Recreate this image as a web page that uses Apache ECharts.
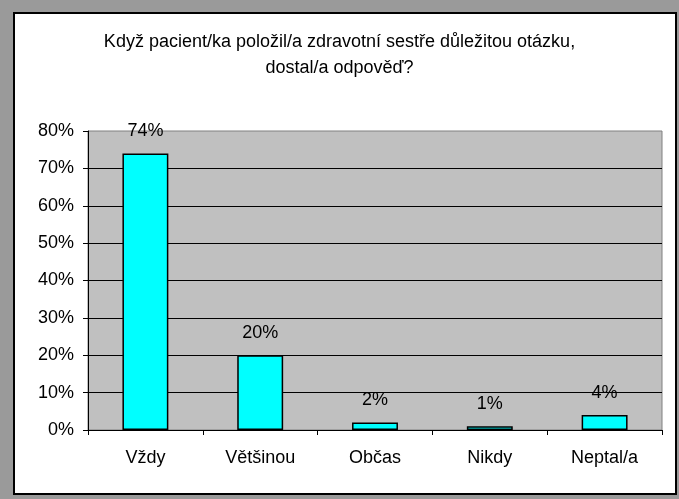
<!DOCTYPE html>
<html>
<head>
<meta charset="utf-8">
<script src="https://cdn.jsdelivr.net/npm/echarts@6/dist/echarts.min.js"></script>
<style>
  html, body { margin: 0; padding: 0; }
  #chart { width: 679px; height: 499px; }
</style>
</head>
<body>
<div id="chart"></div>
<script>
// kategorie odpovedi a podily v procentech
const categories = ['Vždy', 'Většinou', 'Občas', 'Nikdy', 'Neptal/a'];
const values = [74, 20, 2, 1, 4];
const titleLines = ['Když pacient/ka položil/a zdravotní sestře důležitou otázku,', 'dostal/a odpověď?'];

const FONT = '"Liberation Sans", Arial, sans-serif';

var chart = echarts.init(document.getElementById('chart'));
chart.setOption({
  backgroundColor: '#9a9a9a',
  animation: false,
  title: {
    text: titleLines.join('\n'),
    left: 'center',
    top: 24,
    textStyle: { fontFamily: FONT, fontSize: 18, fontWeight: 'normal', color: '#000', lineHeight: 26 }
  },
  graphic: [{
    type: 'rect',
    z: -10,
    shape: { x: 14, y: 13, width: 662, height: 481 },
    style: { fill: '#fff', stroke: '#000', lineWidth: 2 }
  }],
  grid: {
    left: 88, top: 131, right: 17, bottom: 69,
    show: true,
    backgroundColor: '#c0c0c0',
    borderColor: '#808080',
    borderWidth: 1
  },
  xAxis: {
    type: 'category',
    data: categories,
    axisLine: { lineStyle: { color: '#000', width: 1 } },
    axisTick: { show: true, length: 5, interval: 0, lineStyle: { color: '#000' } },
    axisLabel: { fontFamily: FONT, fontSize: 18, color: '#000', margin: 19, interval: 0 }
  },
  yAxis: {
    type: 'value',
    min: 0, max: 80, interval: 10,
    axisLine: { show: true, lineStyle: { color: '#000', width: 1 } },
    axisTick: { show: true, length: 5, lineStyle: { color: '#000' } },
    axisLabel: { fontFamily: FONT, fontSize: 18, color: '#000', margin: 14, formatter: '{value}%' },
    splitLine: { show: true, showMaxLine: false, lineStyle: { color: '#000', width: 1 } }
  },
  series: [{
    type: 'bar',
    data: values,
    barWidth: '40%',
    itemStyle: { color: '#00ffff', borderColor: '#000', borderWidth: 1.5 },
    label: {
      show: true,
      position: 'top',
      distance: 13,
      formatter: '{c}%',
      fontFamily: FONT, fontSize: 18, color: '#000'
    }
  }]
});
</script>
</body>
</html>
